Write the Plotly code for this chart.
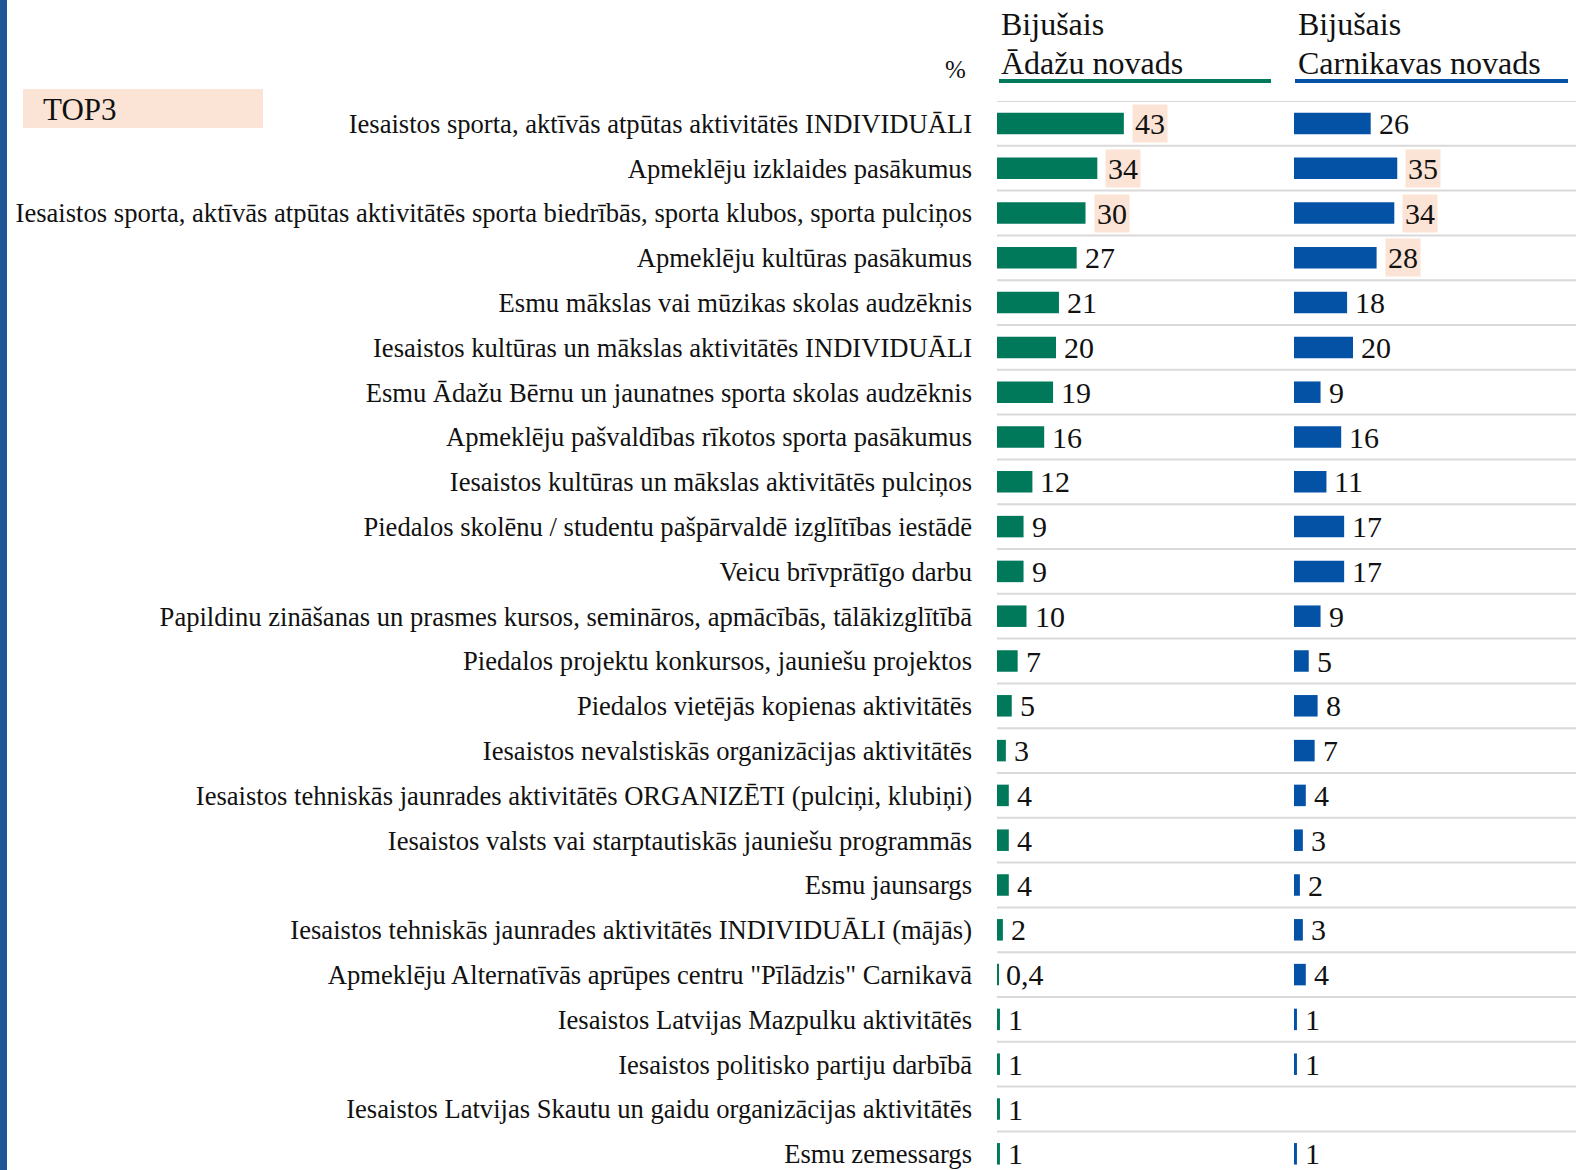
import plotly.graph_objects as go

W, H = 1576, 1170

categories = [
    "Iesaistos sporta, aktīvās atpūtas aktivitātēs INDIVIDUĀLI",
    "Apmeklēju izklaides pasākumus",
    "Iesaistos sporta, aktīvās atpūtas aktivitātēs sporta biedrībās, sporta klubos, sporta pulciņos",
    "Apmeklēju kultūras pasākumus",
    "Esmu mākslas vai mūzikas skolas audzēknis",
    "Iesaistos kultūras un mākslas aktivitātēs INDIVIDUĀLI",
    "Esmu Ādažu Bērnu un jaunatnes sporta skolas audzēknis",
    "Apmeklēju pašvaldības rīkotos sporta pasākumus",
    "Iesaistos kultūras un mākslas aktivitātēs pulciņos",
    "Piedalos skolēnu / studentu pašpārvaldē izglītības iestādē",
    "Veicu brīvprātīgo darbu",
    "Papildinu zināšanas un prasmes kursos, semināros, apmācībās, tālākizglītībā",
    "Piedalos projektu konkursos, jauniešu projektos",
    "Piedalos vietējās kopienas aktivitātēs",
    "Iesaistos nevalstiskās organizācijas aktivitātēs",
    "Iesaistos tehniskās jaunrades aktivitātēs ORGANIZĒTI (pulciņi, klubiņi)",
    "Iesaistos valsts vai starptautiskās jauniešu programmās",
    "Esmu jaunsargs",
    "Iesaistos tehniskās jaunrades aktivitātēs INDIVIDUĀLI (mājās)",
    "Apmeklēju Alternatīvās aprūpes centru \"Pīlādzis\" Carnikavā",
    "Iesaistos Latvijas Mazpulku aktivitātēs",
    "Iesaistos politisko partiju darbībā",
    "Iesaistos Latvijas Skautu un gaidu organizācijas aktivitātēs",
    "Esmu zemessargs",
]

adazi = [43, 34, 30, 27, 21, 20, 19, 16, 12, 9, 9, 10, 7, 5, 3, 4, 4, 4, 2, 0.4, 1, 1, 1, 1]
carnikava = [26, 35, 34, 28, 18, 20, 9, 16, 11, 17, 17, 9, 5, 8, 7, 4, 3, 2, 3, 4, 1, 1, None, 1]

header_top = ["Bijušais", "Bijušais"]
header_bottom = ["Ādažu novads", "Carnikavas novads"]
colors = ["#00795A", "#0452A6"]
highlight = "#FBE4D6"
grid_color = "#D9D9D9"
font_family = "Liberation Serif, Times New Roman, serif"

def fmt(v):
    return f"{v:g}".replace(".", ",")

def top3(vals):
    vv = sorted([v for v in vals if v is not None], reverse=True)
    return set(vv[:3])

def px_x(p):
    return p / W

def px_y(p):
    return 1 - p / H

x1_dom = [px_x(997), px_x(1270)]
x2_dom = [px_x(1294), 1.0]
px_per_unit = 2.95

fig = go.Figure()
fig.add_trace(go.Bar(y=categories, x=adazi, orientation="h", marker=dict(color=colors[0], line=dict(width=0)),
                     width=0.48, xaxis="x", yaxis="y", showlegend=False, hoverinfo="x+y"))
fig.add_trace(go.Bar(y=categories, x=carnikava, orientation="h", marker=dict(color=colors[1], line=dict(width=0)),
                     width=0.48, xaxis="x2", yaxis="y", showlegend=False, hoverinfo="x+y"))

annotations = []
for vals, xr in [(adazi, "x"), (carnikava, "x2")]:
    t3 = top3(vals)
    for cat, v in zip(categories, vals):
        if v is None:
            continue
        hl = v in t3
        annotations.append(dict(
            x=v, y=cat, xref=xr, yref="y", text=fmt(v), showarrow=False,
            xanchor="left", yanchor="middle", xshift=8 if hl else 5, yshift=0,
            font=dict(family=font_family, size=30, color="#111111"),
            bgcolor=highlight if hl else "rgba(0,0,0,0)", borderpad=2,
        ))

# headers
for top, bot, dom in zip(header_top, header_bottom, [x1_dom, x2_dom]):
    annotations.append(dict(
        x=dom[0] + px_x(2), y=px_y(24), xref="paper", yref="paper", text=top, showarrow=False,
        xanchor="left", yanchor="middle", align="left",
        font=dict(family=font_family, size=32, color="#111111"),
    ))
    annotations.append(dict(
        x=dom[0] + px_x(2), y=px_y(63), xref="paper", yref="paper", text=bot, showarrow=False,
        xanchor="left", yanchor="middle", align="left",
        font=dict(family=font_family, size=32, color="#111111"),
    ))
annotations.append(dict(x=px_x(968), y=px_y(69), xref="paper", yref="paper", text="%", showarrow=False,
                        xanchor="right", yanchor="middle", font=dict(family=font_family, size=25, color="#111111")))
annotations.append(dict(x=px_x(41), y=px_y(109), xref="paper", yref="paper", text="TOP3", showarrow=False,
                        xanchor="left", yanchor="middle", font=dict(family=font_family, size=31, color="#111111")))

shapes = []
# left stripe
shapes.append(dict(type="rect", xref="paper", yref="paper", x0=0, x1=px_x(7), y0=0, y1=1,
                   fillcolor="#1F5693", line=dict(width=0), layer="below"))
# TOP3 box
shapes.append(dict(type="rect", xref="paper", yref="paper", x0=px_x(23), x1=px_x(263), y0=px_y(128), y1=px_y(89),
                   fillcolor=highlight, line=dict(width=0), layer="below"))
# header underlines
shapes.append(dict(type="line", xref="paper", yref="paper", x0=px_x(999), x1=px_x(1271), y0=px_y(81), y1=px_y(81),
                   line=dict(color=colors[0], width=4)))
shapes.append(dict(type="line", xref="paper", yref="paper", x0=px_x(1295), x1=px_x(1568), y0=px_y(81), y1=px_y(81),
                   line=dict(color=colors[1], width=4)))
# row separators
for k in range(len(categories)):
    shapes.append(dict(type="line", xref="paper", yref="y", x0=px_x(997), x1=1,
                       y0=k - 0.5, y1=k - 0.5, line=dict(color=grid_color, width=2), layer="below"))

top_px = 101
bottom_px = H
slot = 44.8
n_units = (bottom_px - top_px) / slot

fig.update_layout(
    width=W, height=H,
    margin=dict(l=0, r=0, t=0, b=0),
    paper_bgcolor="white", plot_bgcolor="white",
    xaxis=dict(domain=x1_dom, range=[0, (x1_dom[1] - x1_dom[0]) * W / px_per_unit],
               visible=False, anchor="y"),
    xaxis2=dict(domain=x2_dom, range=[0, (x2_dom[1] - x2_dom[0]) * W / px_per_unit],
                visible=False, anchor="y"),
    yaxis=dict(domain=[0, px_y(top_px)], range=[-0.5 + n_units, -0.5],
               type="category", showgrid=False, zeroline=False, showline=False, ticks="",
               ticklabelstandoff=24, anchor="x",
               tickfont=dict(family=font_family, size=26.6, color="#111111")),
    annotations=annotations,
    shapes=shapes,
    font=dict(family=font_family),
)

fig.write_html("out.html", config={"displayModeBar": False},
               post_script="document.body.style.margin='0';")
